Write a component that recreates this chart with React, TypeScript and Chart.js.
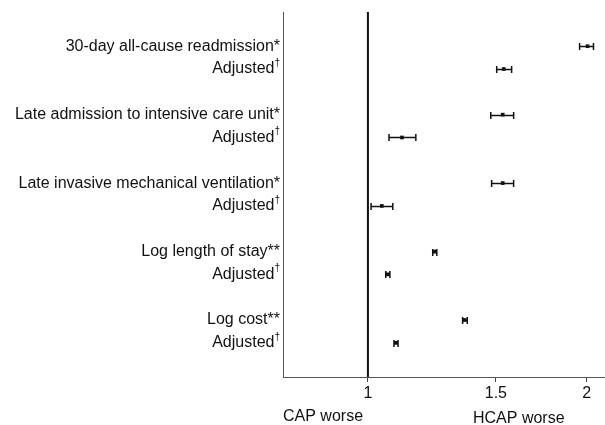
import React, { useEffect, useRef } from "react";
import { Chart, registerables } from "chart.js";

Chart.register(...registerables);

const rowLabels = [
  "30-day all-cause readmission*",
  "Adjusted†",
  "Late admission to intensive care unit*",
  "Adjusted†",
  "Late invasive mechanical ventilation*",
  "Adjusted†",
  "Log length of stay**",
  "Adjusted†",
  "Log cost**",
  "Adjusted†",
];
const rowPositions = [0, 1, 3, 4, 6, 7, 9, 10, 12, 13];
const estimates = [2.006, 1.538, 1.533, 1.114, 1.533, 1.045, 1.236, 1.065, 1.359, 1.093];
const lowerCI = [1.956, 1.504, 1.476, 1.069, 1.48, 1.01, 1.228, 1.058, 1.35, 1.086];
const upperCI = [2.044, 1.577, 1.587, 1.164, 1.587, 1.082, 1.244, 1.072, 1.37, 1.1];
const xTicks = [1, 1.5, 2];
const leftNote = "CAP worse";
const rightNote = "HCAP worse";

const FONT = '"Liberation Sans", Arial, sans-serif';
const INK = "#111";

const forestPlugin = {
  id: "forest",
  afterDatasetsDraw(chart: any) {
    const { ctx, chartArea, scales } = chart;
    const xs = scales.x;
    const ys = scales.y;
    ctx.save();
    // left axis line
    ctx.strokeStyle = "#555";
    ctx.lineWidth = 1;
    ctx.beginPath();
    ctx.moveTo(chartArea.left + 0.5, chartArea.top);
    ctx.lineTo(chartArea.left + 0.5, chartArea.bottom);
    ctx.stroke();
    // error bars
    ctx.strokeStyle = INK;
    ctx.fillStyle = INK;
    ctx.lineWidth = 1.5;
    for (let i = 0; i < rowPositions.length; i++) {
      const y = Math.round(ys.getPixelForValue(rowPositions[i])) + 0.5;
      const x0 = xs.getPixelForValue(lowerCI[i]);
      const x1 = xs.getPixelForValue(upperCI[i]);
      ctx.beginPath();
      ctx.moveTo(x0, y);
      ctx.lineTo(x1, y);
      ctx.moveTo(x0, y - 3.5);
      ctx.lineTo(x0, y + 3.5);
      ctx.moveTo(x1, y - 3.5);
      ctx.lineTo(x1, y + 3.5);
      ctx.stroke();
    }
    // row labels
    ctx.fillStyle = INK;
    ctx.textBaseline = "middle";
    ctx.textAlign = "right";
    const lx = chartArea.left - 3;
    for (let i = 0; i < rowLabels.length; i++) {
      const y = ys.getPixelForValue(rowPositions[i]);
      let label = rowLabels[i];
      let x = lx;
      if (label.endsWith("†")) {
        label = label.slice(0, -1);
        ctx.font = `10px ${FONT}`;
        const w = ctx.measureText("†").width;
        ctx.fillText("†", x, y - 6);
        x -= w;
      }
      ctx.font = `16px ${FONT}`;
      ctx.fillText(label, x, y);
    }
    // bottom notes
    ctx.font = `16px ${FONT}`;
    ctx.textAlign = "left";
    ctx.fillText(leftNote, chartArea.left, 417);
    ctx.fillText(rightNote, chartArea.right - 132, 419);
    ctx.restore();
  },
};

export default function App() {
  const ref = useRef<HTMLCanvasElement | null>(null);
  useEffect(() => {
    document.body.style.margin = "0";
    const canvas = ref.current;
    if (!canvas) return;
    const chart = new Chart(canvas, {
      type: "scatter",
      data: {
        datasets: [
          {
            type: "line",
            data: [
              { x: 1, y: -1.5 },
              { x: 1, y: 14.5 },
            ],
            borderColor: INK,
            borderWidth: 2,
            pointRadius: 0,
          } as any,
          {
            data: estimates.map((v, i) => ({ x: v, y: rowPositions[i] })),
            pointStyle: "rect",
            pointRadius: 2.6,
            backgroundColor: INK,
            borderColor: INK,
            borderWidth: 0,
          },
        ],
      },
      options: {
        animation: false,
        responsive: false,
        maintainAspectRatio: false,
        layout: { autoPadding: false, padding: { top: 12, left: 283, right: 0, bottom: 0 } },
        plugins: { legend: { display: false }, tooltip: { enabled: false } },
        scales: {
          x: {
            type: "logarithmic",
            min: 0.764,
            max: 2.12,
            afterBuildTicks: (axis: any) => {
              axis.ticks = xTicks.map((v) => ({ value: v }));
            },
            afterFit: (axis: any) => {
              axis.height = 48;
            },
            ticks: {
              autoSkip: false,
              maxRotation: 0,
              color: INK,
              font: { size: 16, family: FONT },
              padding: 2,
              callback: (v: any) => String(v),
            },
            grid: { drawOnChartArea: false, tickLength: 5, color: "#444" },
            border: { color: "#555", width: 1 },
          },
          y: {
            display: false,
            reverse: true,
            min: -1.5,
            max: 14.5,
          },
        },
      },
      plugins: [forestPlugin],
    });
    return () => chart.destroy();
  }, []);
  return <canvas ref={ref} width={605} height={425} style={{ display: "block" }} />;
}
